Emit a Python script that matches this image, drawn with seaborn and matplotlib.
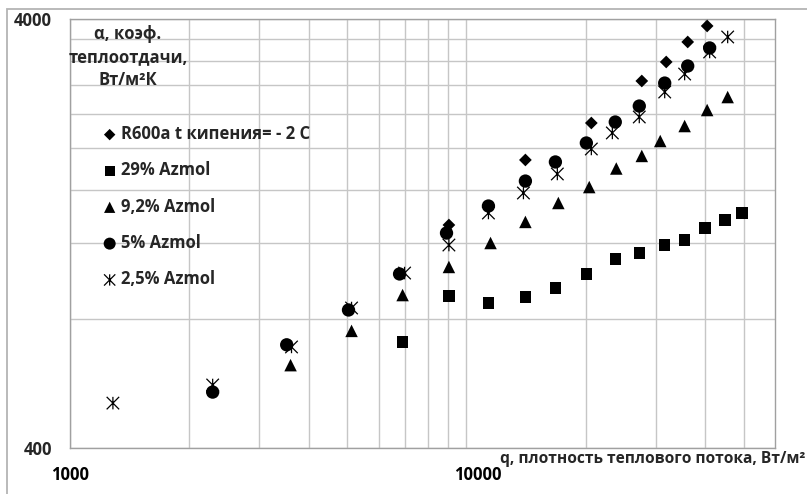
import numpy as np
import pandas as pd
import matplotlib
matplotlib.use("Agg")
import matplotlib.pyplot as plt
import seaborn as sns
from matplotlib.path import Path
from matplotlib.patches import Rectangle
from matplotlib.ticker import FixedLocator, FixedFormatter, NullFormatter
from matplotlib.transforms import blended_transform_factory

# Heat flux q (W/m2) and heat transfer coefficient alpha (W/m2K)
q_r600a = [9030, 14080, 20650, 27680, 31900, 36140, 40460]
a_r600a = [1324, 1877, 2289, 2868, 3176, 3536, 3853]

q_29 = [6900, 9030, 11360, 14080, 16760, 20060, 23730, 27280, 31620, 35500, 40000, 44920, 49580]
a_29 = [707, 904, 871, 900, 944, 1018, 1103, 1139, 1189, 1221, 1303, 1360, 1412]

q_92 = [3600, 5130, 6900, 9030, 11500, 14080, 17050, 20400, 23870, 27680, 30810, 35500, 40460, 45580]
a_92 = [624, 750, 909, 1057, 1202, 1346, 1490, 1623, 1793, 1918, 2078, 2252, 2454, 2631]

q_5 = [2290, 3520, 5040, 6780, 8905, 11360, 14080, 16760, 20060, 23730, 27280, 31620, 36140, 41050]
a_5 = [540, 696, 839, 1018, 1268, 1466, 1676, 1857, 2056, 2301, 2507, 2836, 3108, 3424]

q_25 = [1283, 2290, 3620, 5130, 6980, 9030, 11360, 13920, 16950, 20650, 23330, 27280, 31620, 35500, 41050, 45580]
a_25 = [509, 561, 688, 848, 1023, 1189, 1412, 1572, 1741, 1991, 2170, 2364, 2703, 2977, 3351, 3632]

series_labels = ["R600a t кипения= - 2 C", "29% Azmol", "9,2% Azmol", "5% Azmol", "2,5% Azmol"]

x_major = [1000, 10000]
x_major_labels = ["1000", "10000"]
x_minor = [2000, 3000, 4000, 5000, 6000, 7000, 8000, 9000, 20000, 30000, 40000, 50000]
y_major = [400, 4000]
y_major_labels = ["400", "4000"]
y_minor = [800, 1200, 1600, 2000, 2400, 2800, 3200, 3600]

sns.set_theme(style="white")
plt.rcParams["font.family"] = ["Open Sans", "DejaVu Sans"]
plt.rcParams["font.weight"] = "bold"

GRID = "#c6c6c6"
AXIS = "#a0a0a0"

fig = plt.figure(figsize=(8.07, 4.94), dpi=100)
ax = fig.add_axes([70 / 807, 46 / 494, 705 / 807, 429 / 494])
ax.set_xscale("log")
ax.set_yscale("log")

# Excel-style "star" marker: an X crossed by a vertical stroke
star = Path([(-1, -1), (1, 1), (-1, 1), (1, -1), (0, -1), (0, 1)],
            [Path.MOVETO, Path.LINETO, Path.MOVETO, Path.LINETO, Path.MOVETO, Path.LINETO])

frames = [
    (q_r600a, a_r600a, series_labels[0], "D", 42),
    (q_29, a_29, series_labels[1], "s", 67),
    (q_92, a_92, series_labels[2], "^", 81),
    (q_5, a_5, series_labels[3], "o", 92),
]
for q, a, lab, mk, sz in frames:
    df = pd.DataFrame({"q": q, "alpha": a})
    sns.scatterplot(data=df, x="q", y="alpha", marker=mk, s=sz, color="black",
                    edgecolor="none", linewidth=0, label=lab, ax=ax, zorder=3)

df25 = pd.DataFrame({"q": q_25, "alpha": a_25})
sns.scatterplot(data=df25, x="q", y="alpha", marker=star, s=81, facecolor="none",
                edgecolor="black", linewidth=0.9, label=series_labels[4], ax=ax, zorder=4)

ax.set_xlim(1000, 60000)
ax.set_ylim(400, 4000)

ax.xaxis.set_major_locator(FixedLocator(x_major))
ax.xaxis.set_minor_locator(FixedLocator(x_minor))
ax.xaxis.set_minor_formatter(NullFormatter())
ax.yaxis.set_major_locator(FixedLocator(y_major))
ax.yaxis.set_major_formatter(FixedFormatter(y_major_labels))
ax.yaxis.set_minor_locator(FixedLocator(y_minor))
ax.yaxis.set_minor_formatter(NullFormatter())

ax.grid(which="both", color=GRID, linewidth=1.0)
ax.set_axisbelow(True)
ax.tick_params(which="major", direction="out", length=5, width=0.9, color=AXIS,
               labelsize=12, pad=8)
ax.tick_params(which="minor", length=0)
ax.tick_params(axis="x", labelbottom=False)
for lbl in ax.get_yticklabels():
    lbl.set_fontweight("bold")
for sp in ax.spines.values():
    sp.set_color(AXIS)
    sp.set_linewidth(1.0)
ax.set_xlabel("")
ax.set_ylabel("")

# x tick labels below the axis
tr = blended_transform_factory(ax.transData, fig.transFigure)
x_label_shift = [1.0, 1.07]
for xv, txt, k in zip(x_major, x_major_labels, x_label_shift):
    ax.text(xv * k, 1 - 475 / 494, txt, transform=tr, ha="center", va="center",
            fontsize=12, fontweight="bold", color="black")

# axis titles
fig.text(805 / 807, 1 - 459 / 494, "q, плотность теплового потока, Вт/м²",
         ha="right", va="center", fontsize=11.2, fontweight="bold")
fig.text(128 / 807, 1 - 57 / 494, "α, коэф.\nтеплоотдачи,\nВт/м²К",
         ha="center", va="center", fontsize=12, fontweight="bold",
         multialignment="center", linespacing=1.35)

leg = ax.legend(loc="upper left", bbox_to_anchor=(33 / 705, 1 - 106 / 429),
                frameon=False, fontsize=12, markerscale=0.9, handlelength=0.8,
                handletextpad=0.3, borderpad=0, borderaxespad=0, labelspacing=1.1)
for t in leg.get_texts():
    t.set_fontweight("bold")

# chart-area frame
fig.add_artist(Rectangle((7 / 807, -0.05), 1.2, 1 - 9 / 494 + 0.05,
                         transform=fig.transFigure, fill=False,
                         edgecolor="#b4b4b4", linewidth=1.3))

fig.savefig("out.png", dpi=100)
